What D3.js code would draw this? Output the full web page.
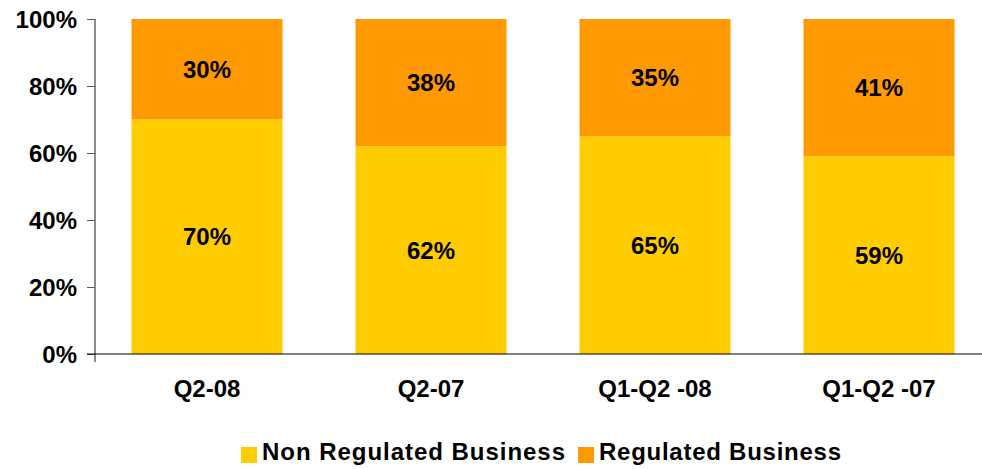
<!DOCTYPE html>
<html lang="en">
  <head>
    <meta charset="utf-8" />
    <title>Business mix</title>
    <script src="https://cdnjs.cloudflare.com/ajax/libs/d3/7.8.5/d3.min.js"></script>
    <style>
      body { margin: 0; background: #fff; }
      text { font-family: "Liberation Sans", Arial, sans-serif; font-weight: bold; }
    </style>
  </head>
  <body>
    <div id="chart"></div>
    <script>
    // data
    var categories = ["Q2-08", "Q2-07", "Q1-Q2 -08", "Q1-Q2 -07"];
    var nonRegulated = [70, 62, 65, 59];
    var regulated = [30, 38, 35, 41];
    var seriesNames = ["Non Regulated Business", "Regulated Business"];
    var seriesColors = ["#FFCC00", "#FF9900"];
    var yTicks = [0, 20, 40, 60, 80, 100];

    var W = 982, H = 469;
    var margin = {top: 19, right: -9, bottom: 115, left: 95};
    var width = W - margin.left - margin.right,
        height = H - margin.top - margin.bottom;

    var svg = d3.select("#chart").append("svg")
        .attr("width", W).attr("height", H);
    var g = svg.append("g")
        .attr("transform", "translate(" + margin.left + "," + margin.top + ")");

    var x = d3.scaleBand()
        .domain(categories)
        .range([0, width])
        .paddingInner(0.326)
        .paddingOuter(0.163);

    var y = d3.scaleLinear()
        .domain([0, 100])
        .range([height, 0]);

    // stack the two series
    var rows = categories.map(function(c, i) {
      return {cat: c, a: nonRegulated[i], b: regulated[i]};
    });
    var stack = d3.stack().keys(["a", "b"])(rows);

    stack.forEach(function(layer, li) {
      var lg = g.append("g");
      lg.selectAll("rect")
        .data(layer)
        .enter().append("rect")
          .attr("x", function(d) { return x(d.data.cat); })
          .attr("y", function(d) { return y(d[1]); })
          .attr("width", x.bandwidth())
          .attr("height", function(d) { return y(d[0]) - y(d[1]); })
          .attr("fill", seriesColors[li]);
      lg.selectAll("text")
        .data(layer)
        .enter().append("text")
          .attr("x", function(d) { return x(d.data.cat) + x.bandwidth() / 2; })
          .attr("y", function(d) { return (y(d[0]) + y(d[1])) / 2; })
          .attr("dy", "0.36em")
          .attr("text-anchor", "middle")
          .style("font-size", "24px")
          .text(function(d) { return (d[1] - d[0]) + "%"; });
    });

    // y axis
    var yAxis = g.append("g")
      .call(d3.axisLeft(y).tickValues(yTicks).tickSize(8).tickSizeOuter(0)
        .tickFormat(function(d) { return d + "%"; }));
    yAxis.select(".domain").remove();
    yAxis.selectAll("line").attr("stroke", "#555");
    yAxis.selectAll("text")
      .attr("x", -18)
      .attr("dy", "0.36em")
      .attr("fill", "#000")
      .style("font-size", "24px")
      .style("font-family", "Liberation Sans, Arial, sans-serif")
      .style("font-weight", "bold");
    g.append("line")
      .attr("x1", 0).attr("x2", 0)
      .attr("y1", y(100)).attr("y2", y(0) + 8)
      .attr("stroke", "#666").attr("stroke-width", 1.5);

    // baseline
    g.append("line")
      .attr("x1", -8).attr("x2", width)
      .attr("y1", y(0)).attr("y2", y(0))
      .attr("stroke", "#000").attr("stroke-width", 1);

    // category labels
    g.selectAll(".cat")
      .data(categories)
      .enter().append("text")
        .attr("x", function(d) { return x(d) + x.bandwidth() / 2; })
        .attr("y", height + 43)
        .attr("text-anchor", "middle")
        .style("font-size", "24px")
        .text(function(d) { return d; });

    // legend
    var legendX = [241, 578];
    var legendW = [303, 242];
    seriesNames.forEach(function(name, i) {
      svg.append("rect")
        .attr("x", legendX[i]).attr("y", 447)
        .attr("width", 16).attr("height", 16)
        .attr("fill", seriesColors[i]);
      svg.append("text")
        .attr("x", legendX[i] + 21).attr("y", 460)
        .style("font-size", "24px")
        .attr("textLength", legendW[i])
        .attr("lengthAdjust", "spacing")
        .text(name);
    });
    </script>
  </body>
</html>
